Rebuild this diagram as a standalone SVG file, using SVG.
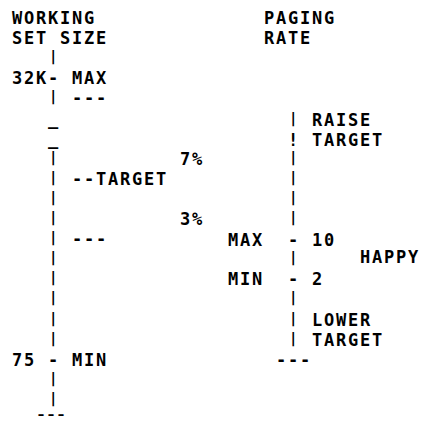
<svg xmlns="http://www.w3.org/2000/svg" width="424" height="422" viewBox="0 0 424 422">
<style>
text{font-family:"DejaVu Sans Mono","Liberation Mono",monospace;font-weight:bold;font-size:17px;letter-spacing:1.77px;fill:#000;white-space:pre}
text.p{font-size:14px;letter-spacing:0}
text.end{font-size:12px;letter-spacing:0}
</style>
<rect width="424" height="422" fill="#fff"/>
<g id="working-set-title">
<text x="12" y="24">WORKING</text>
<text x="12" y="44.1">SET SIZE</text>
</g>
<g id="working-set-axis">
<text class="p" x="49" y="61.2">|</text>
<text x="12" y="84.3">32K-</text>
<text class="p" x="49" y="101.4">|</text>
<text x="48" y="124.5">_</text>
<text x="48" y="144.6">_</text>
<text class="p" x="49" y="161.7">|</text>
<text class="p" x="49" y="181.8">|</text>
<text class="p" x="49" y="201.9">|</text>
<text class="p" x="49" y="222">|</text>
<text class="p" x="49" y="242.1">|</text>
<text class="p" x="49" y="262.2">|</text>
<text class="p" x="49" y="282.3">|</text>
<text class="p" x="49" y="302.4">|</text>
<text class="p" x="49" y="322.5">|</text>
<text class="p" x="49" y="342.6">|</text>
<text x="12" y="365.7">75 -</text>
<text class="p" x="49" y="382.8">|</text>
<text class="p" x="49" y="402.9">|</text>
<text class="end" x="36" y="418.5" textLength="30" lengthAdjust="spacingAndGlyphs">---</text>
</g>
<g id="working-set-marks">
<text x="72" y="84.3">MAX</text>
<text x="72" y="104.4">---</text>
<text x="72" y="184.8">--TARGET</text>
<text x="72" y="245.1">---</text>
<text x="72" y="365.7">MIN</text>
</g>
<g id="percent-labels">
<text x="180" y="164.7">7%</text>
<text x="180" y="225">3%</text>
</g>
<g id="paging-rate-title">
<text x="264" y="24">PAGING</text>
<text x="264" y="44.1">RATE</text>
</g>
<g id="paging-rate-axis">
<text class="p" x="289" y="122.5">|</text>
<text x="288" y="145.6">!</text>
<text class="p" x="289" y="161.7">|</text>
<text class="p" x="289" y="181.8">|</text>
<text class="p" x="289" y="201.9">|</text>
<text class="p" x="289" y="222">|</text>
<text x="288" y="245.5">-</text>
<text class="p" x="289" y="262.2">|</text>
<text x="288" y="285.3">-</text>
<text class="p" x="289" y="302.4">|</text>
<text class="p" x="289" y="322.5">|</text>
<text class="p" x="289" y="342.6">|</text>
<text x="276" y="365.7">---</text>
</g>
<g id="paging-rate-labels">
<text x="312" y="125.5">RAISE</text>
<text x="312" y="145.6">TARGET</text>
<text x="228" y="245.5">MAX</text>
<text x="312" y="245.5">10</text>
<text x="360" y="263">HAPPY</text>
<text x="228" y="285.3">MIN</text>
<text x="312" y="285.3">2</text>
<text x="312" y="325.5">LOWER</text>
<text x="312" y="345.6">TARGET</text>
</g>
</svg>
